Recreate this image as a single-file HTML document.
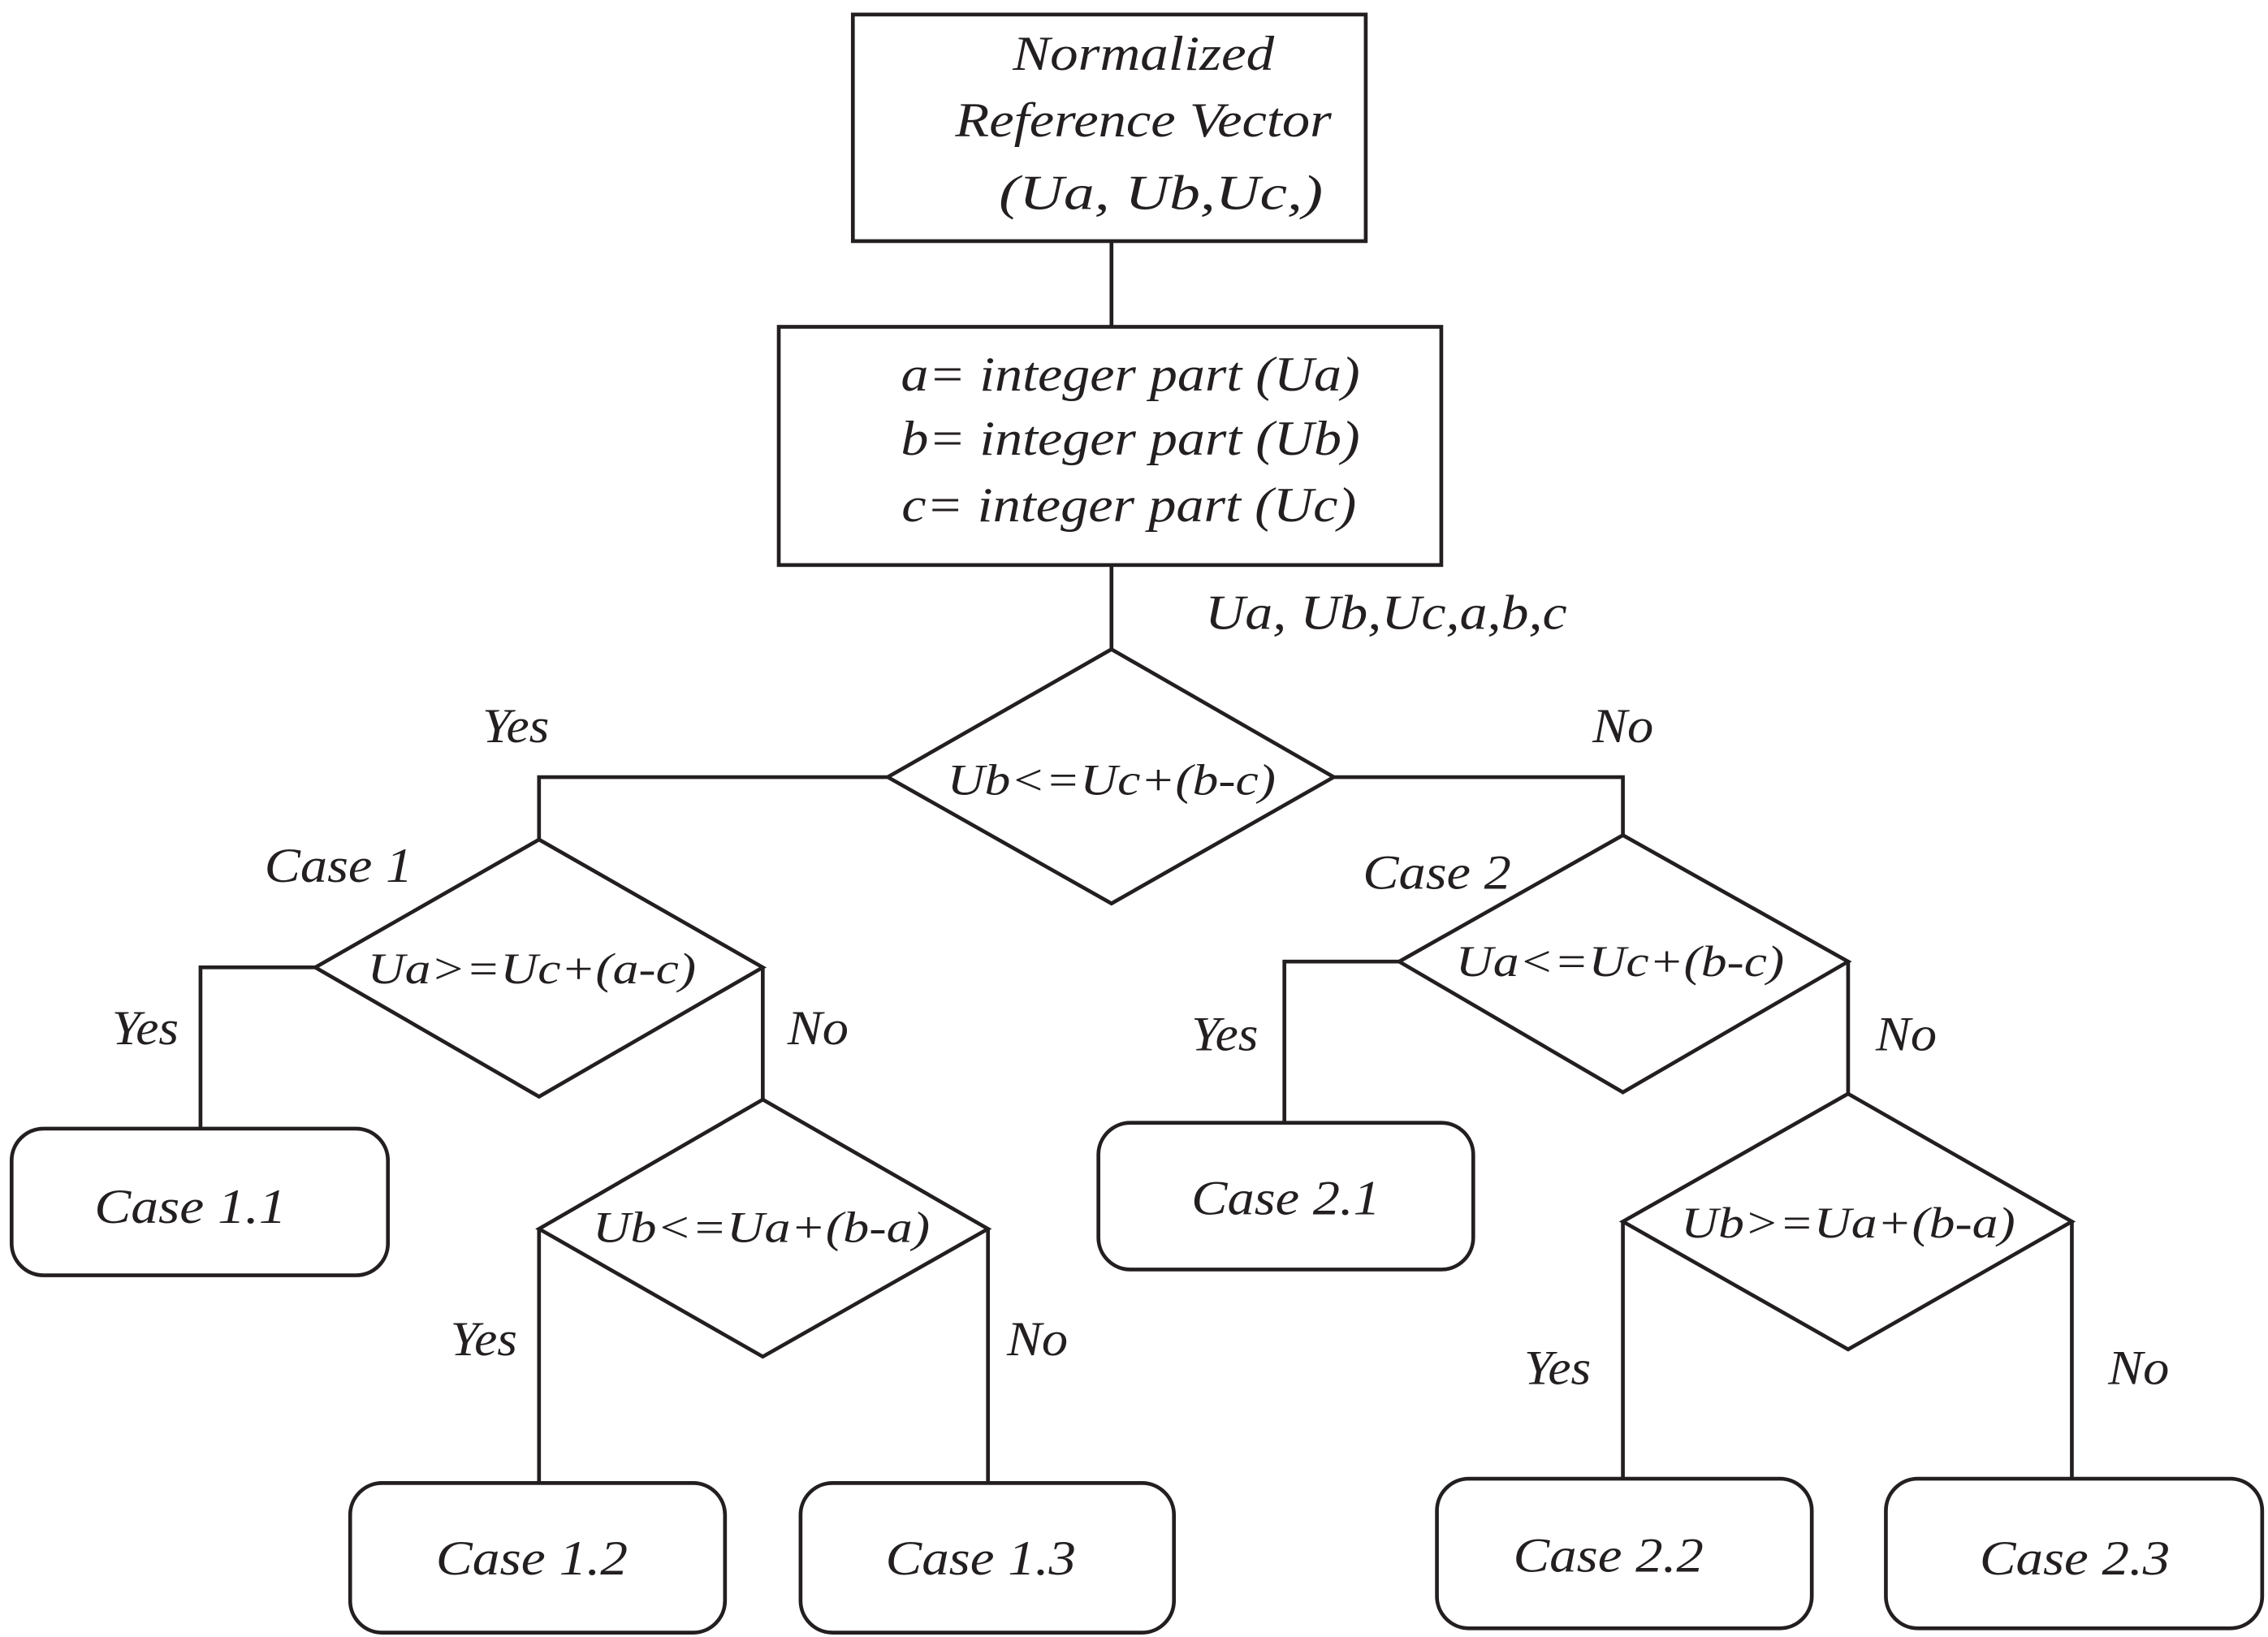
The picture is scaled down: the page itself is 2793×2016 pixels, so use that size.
<!DOCTYPE html>
<html><head><meta charset="utf-8"><style>
html,body{margin:0;padding:0;background:#fff;}
svg{display:block;}
text{font-family:"Liberation Serif",serif;font-style:italic;fill:#231f20;text-anchor:middle;}
</style></head><body>
<svg width="2793" height="2016" viewBox="0 0 1561 1127" preserveAspectRatio="none" xmlns="http://www.w3.org/2000/svg">
<g fill="none" stroke="#231f20" stroke-width="2.6" stroke-linejoin="miter">
<rect x="587" y="10" width="353" height="156"/>
<line x1="765" y1="166" x2="765" y2="225"/>
<rect x="536" y="225" width="456" height="164"/>
<line x1="765" y1="389" x2="765" y2="447"/>
<polygon points="765,447 918,535 765,622 611,535"/>
<polyline points="611,535 371,535 371,578"/>
<polyline points="918,535 1117,535 1117,575"/>
<polygon points="371,578 525,666 371,755 217,666"/>
<polyline points="217,666 138,666 138,776"/>
<line x1="525" y1="666" x2="525" y2="757"/>
<rect x="8" y="777" width="259" height="101" rx="22"/>
<polygon points="525,757 680,846 525,934 371,846"/>
<line x1="371" y1="846" x2="371" y2="1021"/>
<line x1="680" y1="846" x2="680" y2="1021"/>
<rect x="241" y="1021" width="258" height="103" rx="22"/>
<rect x="551" y="1021" width="257" height="103" rx="22"/>
<polygon points="1117,575 1272,662 1117,752 963,662"/>
<polyline points="963,662 884,662 884,773"/>
<line x1="1272" y1="662" x2="1272" y2="753"/>
<rect x="756" y="773" width="258" height="101" rx="22"/>
<polygon points="1272,753 1426,841 1272,929 1117,841"/>
<line x1="1117" y1="841" x2="1117" y2="1018"/>
<line x1="1426" y1="841" x2="1426" y2="1018"/>
<rect x="989" y="1018" width="258" height="103" rx="22"/>
<rect x="1298" y="1018" width="259" height="103" rx="22"/>
</g>
<g font-size="34">
<text x="787" y="48" textLength="180" lengthAdjust="spacingAndGlyphs">Normalized</text>
<text x="787" y="94" textLength="259" lengthAdjust="spacingAndGlyphs">Reference Vector</text>
<text x="799" y="144" textLength="223" lengthAdjust="spacingAndGlyphs">(Ua, Ub,Uc,)</text>
<text x="778" y="269" textLength="316" lengthAdjust="spacingAndGlyphs">a= integer part (Ua)</text>
<text x="778" y="313" textLength="316" lengthAdjust="spacingAndGlyphs">b= integer part (Ub)</text>
<text x="777" y="359" textLength="313" lengthAdjust="spacingAndGlyphs">c= integer part (Uc)</text>
<text x="954" y="433" textLength="249" lengthAdjust="spacingAndGlyphs">Ua, Ub,Uc,a,b,c</text>
<text x="355" y="511" textLength="46" lengthAdjust="spacingAndGlyphs">Yes</text>
<text x="1117" y="511" textLength="42" lengthAdjust="spacingAndGlyphs">No</text>
<text x="233" y="607" textLength="102" lengthAdjust="spacingAndGlyphs">Case 1</text>
<text x="989" y="612" textLength="102" lengthAdjust="spacingAndGlyphs">Case 2</text>
<text x="100" y="719" textLength="46" lengthAdjust="spacingAndGlyphs">Yes</text>
<text x="563" y="719" textLength="42" lengthAdjust="spacingAndGlyphs">No</text>
<text x="843" y="723" textLength="46" lengthAdjust="spacingAndGlyphs">Yes</text>
<text x="1312" y="723" textLength="42" lengthAdjust="spacingAndGlyphs">No</text>
<text x="333" y="933" textLength="46" lengthAdjust="spacingAndGlyphs">Yes</text>
<text x="714" y="933" textLength="42" lengthAdjust="spacingAndGlyphs">No</text>
<text x="1072" y="953" textLength="46" lengthAdjust="spacingAndGlyphs">Yes</text>
<text x="1472" y="953" textLength="42" lengthAdjust="spacingAndGlyphs">No</text>
<text x="131" y="842" textLength="132" lengthAdjust="spacingAndGlyphs">Case 1.1</text>
<text x="885" y="836" textLength="130" lengthAdjust="spacingAndGlyphs">Case 2.1</text>
<text x="366" y="1084" textLength="132" lengthAdjust="spacingAndGlyphs">Case 1.2</text>
<text x="675" y="1084" textLength="131" lengthAdjust="spacingAndGlyphs">Case 1.3</text>
<text x="1107" y="1082" textLength="131" lengthAdjust="spacingAndGlyphs">Case 2.2</text>
<text x="1428" y="1084" textLength="131" lengthAdjust="spacingAndGlyphs">Case 2.3</text>
</g>
<g font-size="30">
<text x="765" y="547" textLength="226" lengthAdjust="spacingAndGlyphs">Ub&lt;=Uc+(b-c)</text>
<text x="366" y="677" textLength="226" lengthAdjust="spacingAndGlyphs">Ua&gt;=Uc+(a-c)</text>
<text x="524" y="855" textLength="232" lengthAdjust="spacingAndGlyphs">Ub&lt;=Ua+(b-a)</text>
<text x="1115" y="672" textLength="226" lengthAdjust="spacingAndGlyphs">Ua&lt;=Uc+(b-c)</text>
<text x="1272" y="852" textLength="230" lengthAdjust="spacingAndGlyphs">Ub&gt;=Ua+(b-a)</text>
</g>
</svg>
</body></html>
